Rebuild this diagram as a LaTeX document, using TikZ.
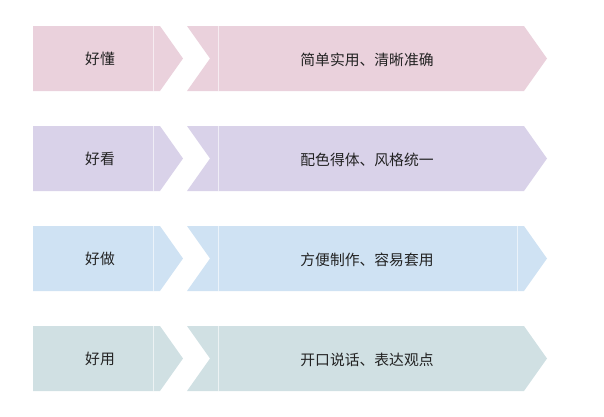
\documentclass[tikz,border=0pt]{standalone}
\usepackage{fontspec}
\newfontfamily\cjk{Noto Sans CJK SC}
\definecolor{c1}{HTML}{EAD1DC}
\definecolor{c2}{HTML}{D9D2E9}
\definecolor{c3}{HTML}{CFE2F3}
\definecolor{c4}{HTML}{D0E0E3}
\definecolor{txt}{HTML}{222222}
\tikzset{
  lbl/.style={font=\cjk\fontsize{14.8}{16}\selectfont, text=txt, inner sep=0pt},
  seam/.style={white, line width=0.7pt, opacity=0.6}
}
\begin{document}
\begin{tikzpicture}[x=1pt,y=-1pt]
\useasboundingbox (0,0) rectangle (604,416);
\foreach \i/\c/\a/\b in {0/c1/好懂/简单实用、清晰准确, 1/c2/好看/配色得体、风格统一, 2/c3/好做/方便制作、容易套用, 3/c4/好用/开口说话、表达观点}{
  \pgfmathsetmacro{\t}{26+100*\i}
  \pgfmathsetmacro{\m}{\t+32.5}
  \pgfmathsetmacro{\bt}{\t+65}
  \fill[\c] (33,\t) -- (160,\t) -- (183,\m) -- (160,\bt) -- (33,\bt) -- cycle;
  \fill[\c] (187,\t) -- (524,\t) -- (547,\m) -- (524,\bt) -- (187,\bt) -- (210,\m) -- cycle;
  \draw[seam] (153,\t) -- (153,\bt);
  \draw[seam] (218,\t) -- (218,\bt);
  \node[lbl] (l\i) at (100,\m) {\a};
  \node[lbl] (r\i) at (367,\m+1) {\b};
}
\draw[seam] (517,226) -- (517,291);
\end{tikzpicture}
\end{document}
